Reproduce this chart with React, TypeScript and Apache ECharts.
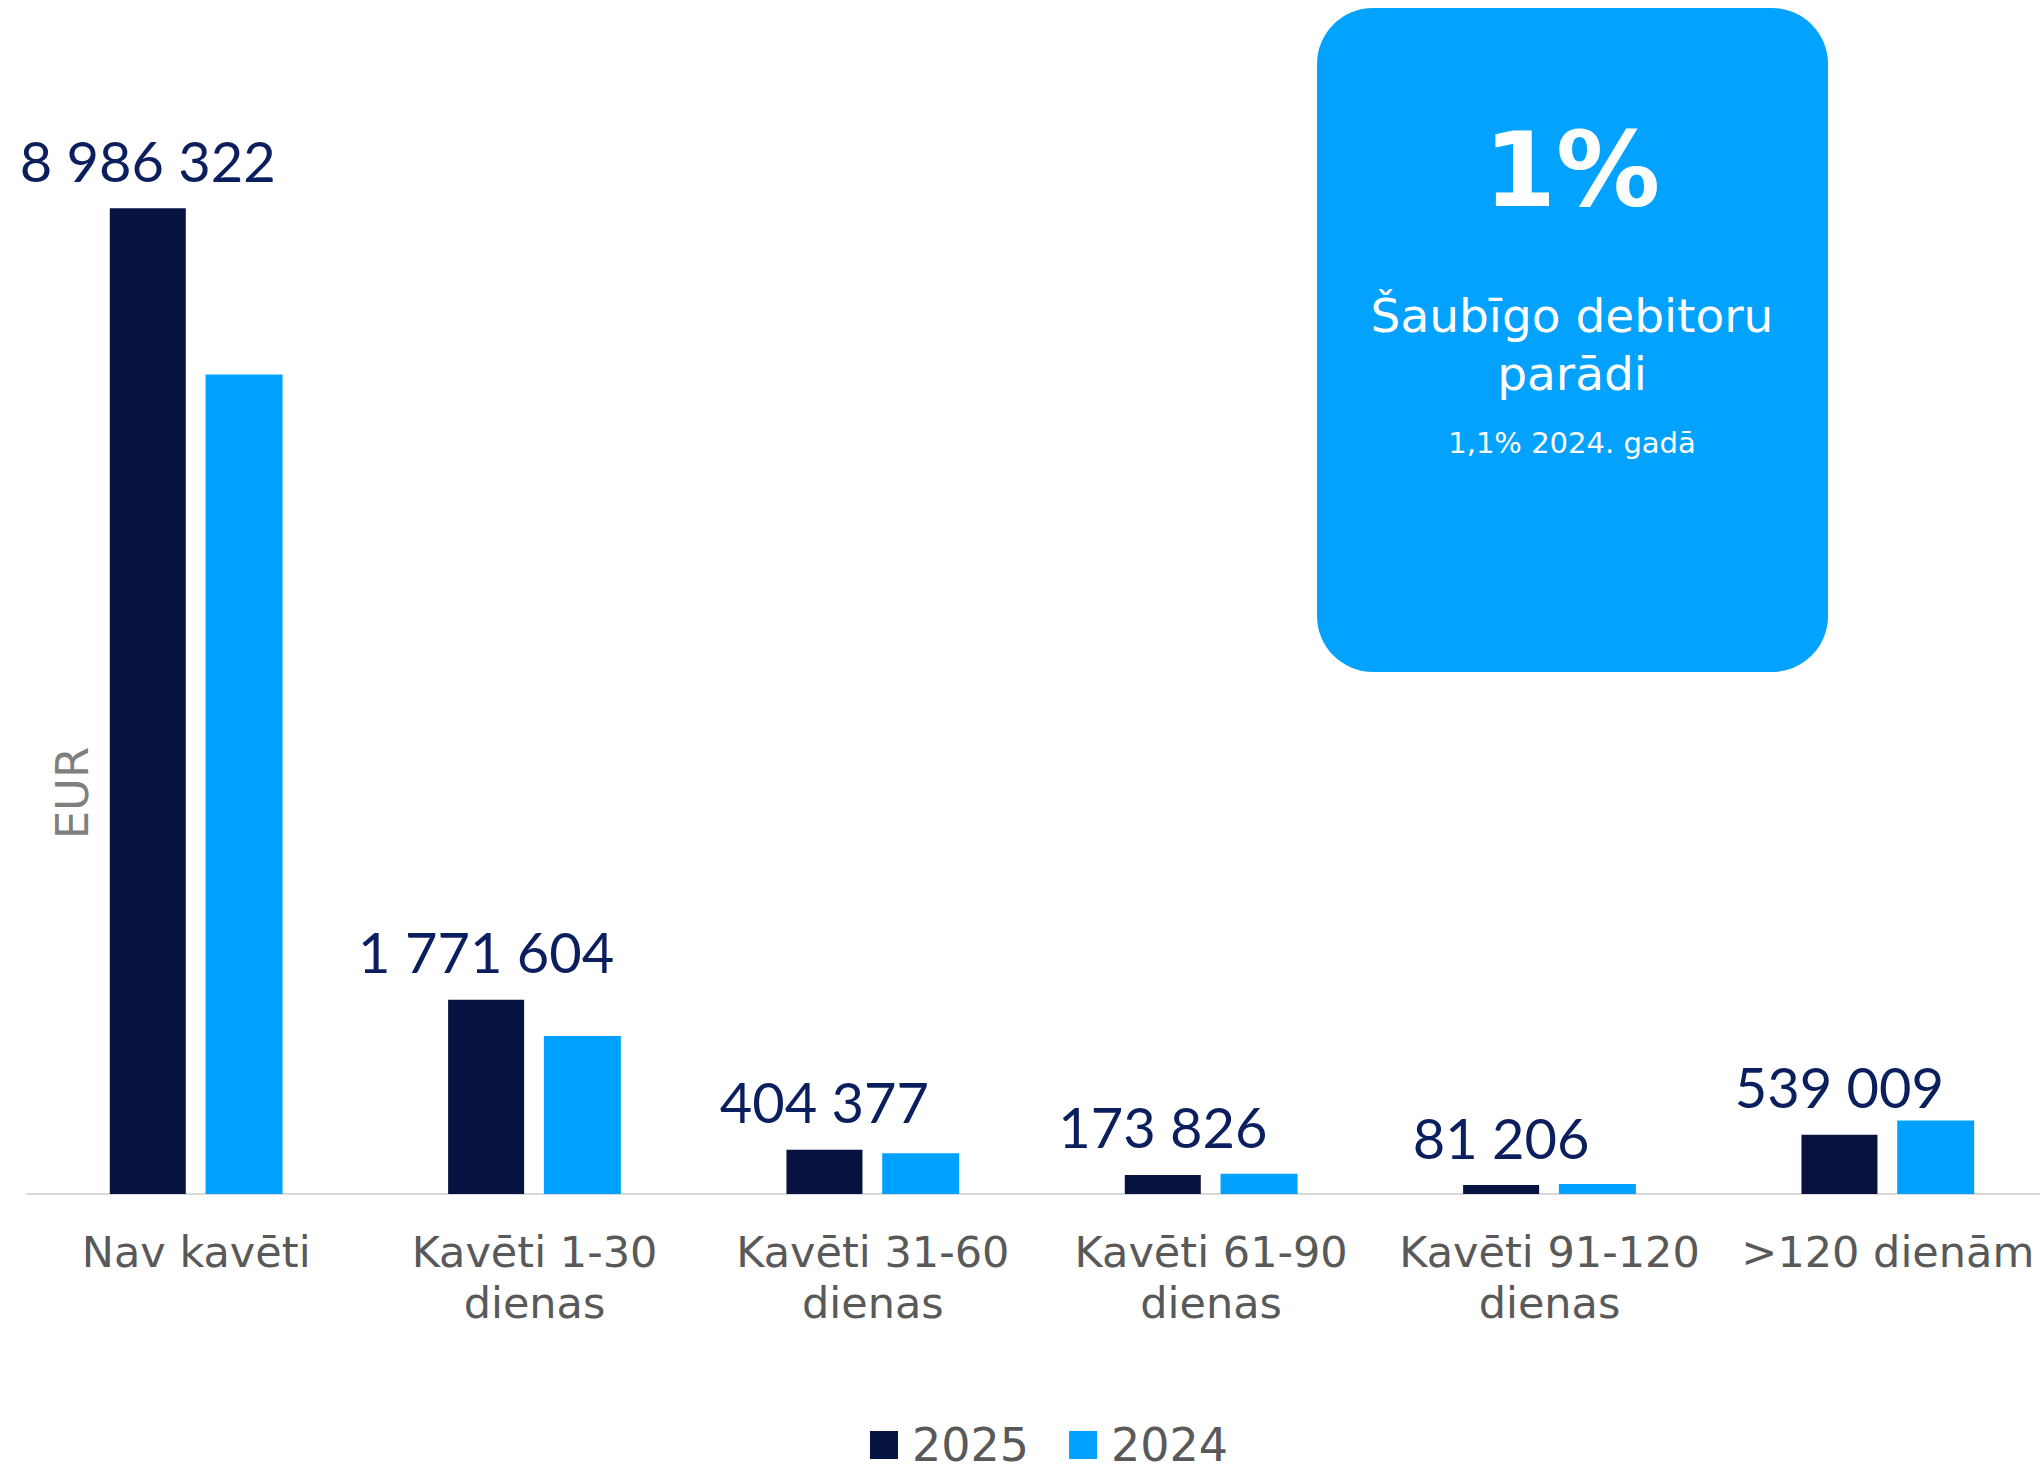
import React, { useEffect, useRef } from "react";
import * as echarts from "echarts";

const categories = [
  "Nav kavēti",
  "Kavēti 1-30\ndienas",
  "Kavēti 31-60\ndienas",
  "Kavēti 61-90\ndienas",
  "Kavēti 91-120\ndienas",
  ">120 dienām",
];
const values2025 = [8986322, 1771604, 404377, 173826, 81206, 539009];
const values2024 = [7470000, 1440000, 371000, 185000, 92000, 670000];
const seriesNames = ["2025", "2024"];
const yMax = 10000000;

const NAVY = "#061341";
const BLUE = "#00A1FF";
const LABEL = "#0B1F5E";
const GRAY = "#595959";

const fmt = (v: number) => String(v).replace(/\B(?=(\d{3})+(?!\d))/g, " ");

export default function App() {
  const ref = useRef<HTMLDivElement>(null);
  useEffect(() => {
    document.body.style.margin = "0";
    const chart = echarts.init(ref.current!, null, { renderer: "svg" });
    chart.setOption({
      animation: false,
      backgroundColor: "#ffffff",
      grid: { left: 27, right: -17, top: 97, bottom: 277, containLabel: false, outerBoundsMode: "none" },
      legend: {
        left: 870,
        top: 1422,
        padding: 0,
        itemWidth: 28,
        itemHeight: 28,
        itemGap: 40,
        icon: "rect",
        textStyle: { fontSize: 46, lineHeight: 46, color: GRAY, fontFamily: "DejaVu Sans", padding: [0, 0, 0, 9] },
        data: seriesNames,
      },
      xAxis: {
        type: "category",
        data: categories,
        axisLine: { show: true, lineStyle: { color: "#D9D9D9", width: 2 } },
        axisTick: { show: false },
        axisLabel: {
          interval: 0,
          margin: 32,
          fontSize: 43,
          lineHeight: 51,
          color: GRAY,
          fontFamily: "DejaVu Sans",
        },
      },
      yAxis: {
        type: "value",
        min: 0,
        max: yMax,
        axisLabel: { show: false },
        axisLine: { show: false },
        axisTick: { show: false },
        splitLine: { show: false },
      },
      series: [
        {
          name: seriesNames[0],
          type: "bar",
          data: values2025,
          barWidth: 76,
          barGap: "26%",
          itemStyle: { color: NAVY },
          label: {
            show: true,
            position: "top",
            distance: 20,
            formatter: (p: any) => fmt(p.value),
            fontSize: 56,
            lineHeight: 56,
            color: LABEL,
            fontFamily: "Lato",
          },
        },
        {
          name: seriesNames[1],
          type: "bar",
          data: values2024,
          barWidth: 77,
          barGap: "26%",
          itemStyle: { color: BLUE },
        },
      ],
      graphic: [
        {
          type: "text",
          x: 72,
          y: 793,
          rotation: Math.PI / 2,
          style: {
            text: "EUR",
            fontSize: 45,
            fill: "#7F7F7F",
            fontFamily: "DejaVu Sans",
            align: "center",
            verticalAlign: "middle",
          },
        },
        {
          type: "rect",
          shape: { x: 1317, y: 8, width: 511, height: 664, r: 56 },
          style: { fill: "#03A2FF" },
        },
        {
          type: "text",
          x: 1572,
          y: 170,
          style: {
            text: "1%",
            fontSize: 104,
            fontWeight: "bold",
            fill: "#ffffff",
            fontFamily: "DejaVu Sans",
            align: "center",
            verticalAlign: "middle",
          },
        },
        {
          type: "text",
          x: 1572,
          y: 344,
          style: {
            text: "Šaubīgo debitoru\nparādi",
            fontSize: 47,
            lineHeight: 58,
            fill: "#ffffff",
            fontFamily: "DejaVu Sans",
            align: "center",
            verticalAlign: "middle",
          },
        },
        {
          type: "text",
          x: 1572,
          y: 443,
          style: {
            text: "1,1% 2024. gadā",
            fontSize: 29,
            fill: "#ffffff",
            fontFamily: "DejaVu Sans",
            align: "center",
            verticalAlign: "middle",
          },
        },
      ],
    });
    return () => chart.dispose();
  }, []);
  return <div ref={ref} style={{ width: 2040, height: 1471 }} />;
}
